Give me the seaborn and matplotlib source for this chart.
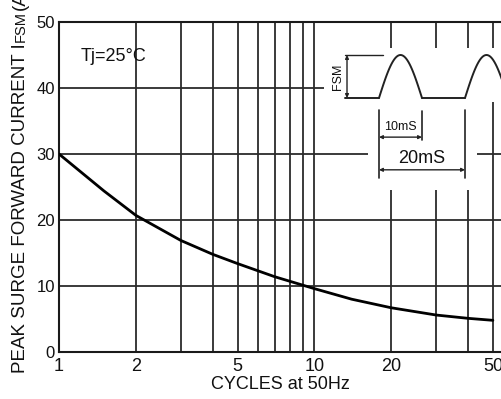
import numpy as np
import pandas as pd
import matplotlib
matplotlib.use("Agg")
import matplotlib.pyplot as plt
from matplotlib.ticker import FixedLocator, NullFormatter
from matplotlib.patches import Rectangle
import seaborn as sns

# Surge capability curve: peak forward surge current vs. number of cycles
cycles = [1, 1.5, 2, 3, 4, 5, 7, 10, 14, 20, 30, 40, 50]
ifsm_amps = [30.0, 24.4, 20.7, 16.9, 14.8, 13.4, 11.4, 9.6, 8.0, 6.7, 5.6, 5.1, 4.8]

x_major = [1, 2, 5, 10, 20, 50]
x_major_labels = ["1", "2", "5", "10", "20", "50"]
x_minor = [3, 4, 6, 7, 8, 9, 30, 40]
y_ticks = [0, 10, 20, 30, 40, 50]

sns.set_theme(style="white")
plt.rcParams["font.family"] = ["Liberation Sans", "DejaVu Sans"]

W, H = 501, 399
fig = plt.figure(figsize=(W / 100, H / 100), dpi=100)
fig.patch.set_facecolor("white")

# main axes, placed in pixel terms
L, R, B, T = 59, 501, 352, 22
ax = fig.add_axes([L / W, 1 - B / H, (R - L) / W, (B - T) / H])
ax.set_facecolor("white")

df = pd.DataFrame({"cycles": cycles, "ifsm": ifsm_amps})
sns.lineplot(data=df, x="cycles", y="ifsm", ax=ax, color="black", lw=2.0, zorder=3)

ax.set_xscale("log")
ax.set_xlim(1, 53.8)
ax.set_ylim(0, 50)

ax.xaxis.set_major_locator(FixedLocator(x_major))
ax.set_xticklabels(x_major_labels)
ax.xaxis.set_minor_locator(FixedLocator(x_minor))
ax.xaxis.set_minor_formatter(NullFormatter())
ax.yaxis.set_major_locator(FixedLocator(y_ticks))

grid_kw = dict(color="#2b2b2b", lw=1.3)
ax.grid(True, which="major", axis="both", **grid_kw)
ax.grid(True, which="minor", axis="x", **grid_kw)
ax.set_axisbelow(True)

ax.tick_params(axis="both", which="both", length=0)
ax.tick_params(axis="x", labelsize=13, pad=4, colors="#111111")
ax.tick_params(axis="y", labelsize=12, pad=3, colors="#111111")

for side in ["left", "bottom", "top"]:
    ax.spines[side].set_visible(True)
    ax.spines[side].set_color("#1a1a1a")
    ax.spines[side].set_linewidth(1.5)
ax.spines["right"].set_visible(False)

ax.set_xlabel("CYCLES at 50Hz", fontsize=13, labelpad=1, color="#111111")
ax.set_ylabel("")

ax.text(0.048, 0.894, "Tj=25°C", transform=ax.transAxes, fontsize=13,
        ha="left", va="center", color="#111111")

# white cut-out behind the waveform sketch
ov = fig.add_axes([0, 0, 1, 1], zorder=2)
ov.set_xlim(0, W)
ov.set_ylim(H, 0)
ov.axis("off")
ov.patch.set_alpha(0)
for (x0, y0, x1, y1) in [(324, 48, 477, 120), (368, 120, 477, 190), (477, 48, 501, 102)]:
    ov.add_patch(Rectangle((x0, y0), x1 - x0, y1 - y0, facecolor="white", edgecolor="none"))

# waveform sketch in its own time axis (ms) and amplitude units
px_per_ms, t0_px = 4.3, 379
amp_px, base_px = 43, 98
wx0, wx1, wy0, wy1 = 320, 501, 45, 195
wav = fig.add_axes([wx0 / W, 1 - wy1 / H, (wx1 - wx0) / W, (wy1 - wy0) / H], zorder=3)
wav.set_xlim((wx0 - t0_px) / px_per_ms, (wx1 - t0_px) / px_per_ms)
wav.set_ylim((base_px - wy1) / amp_px, (base_px - wy0) / amp_px)
wav.axis("off")
wav.patch.set_alpha(0)

lc = "#222222"
t_arch = np.linspace(0, 10, 60)
wav.plot([-7.9, 0], [0, 0], color=lc, lw=1.4)
wav.plot(t_arch, np.sin(np.pi * t_arch / 10), color=lc, lw=1.4)
wav.plot([10, 20], [0, 0], color=lc, lw=1.4)
wav.plot(t_arch + 20, np.sin(np.pi * t_arch / 10), color=lc, lw=1.4)

# peak current dimension
wav.plot([-7.9, 0.9], [1, 1], color=lc, lw=1.0)
wav.annotate("", xy=(-7.44, 1.0), xytext=(-7.44, 0.0),
             arrowprops=dict(arrowstyle="<|-|>", color=lc, lw=1.0,
                             mutation_scale=5, shrinkA=0, shrinkB=0))
wav.text(-9.6, 0.5, "FSM", rotation=90, fontsize=9, ha="center", va="center", color="#111111")

# 10 ms / 20 ms dimensions
wav.plot([0, 0], [-0.28, -1.86], color=lc, lw=1.2)
wav.plot([10, 10], [-0.3, -0.98], color=lc, lw=1.2)
wav.plot([20, 20], [-0.28, -1.86], color=lc, lw=1.2)
wav.annotate("", xy=(0, -0.91), xytext=(10, -0.91),
             arrowprops=dict(arrowstyle="<|-|>", color=lc, lw=1.0,
                             mutation_scale=5, shrinkA=0, shrinkB=0))
wav.annotate("", xy=(0, -1.67), xytext=(20, -1.67),
             arrowprops=dict(arrowstyle="<|-|>", color=lc, lw=1.0,
                             mutation_scale=5, shrinkA=0, shrinkB=0))
wav.text(5, -0.67, "10mS", fontsize=9, ha="center", va="center", color="#111111")
wav.text(10, -1.40, "20mS", fontsize=13, ha="center", va="center", color="#111111")

# rotated y-axis title built from pieces (small-caps FSM)
fig.canvas.draw()
bx = 25 / W
t1 = fig.text(bx, 1 - 373 / H, "PEAK SURGE FORWARD CURRENT I", rotation=90,
              rotation_mode="anchor", ha="left", va="baseline", fontsize=13.5, color="#111111")
fig.canvas.draw()
y_top = t1.get_window_extent().y1
t2 = fig.text(bx, (y_top + 1) / H, "FSM", rotation=90, rotation_mode="anchor",
              ha="left", va="baseline", fontsize=10.5, color="#111111")
fig.canvas.draw()
y_top = t2.get_window_extent().y1
fig.text(bx, (y_top + 1) / H, "(A)", rotation=90, rotation_mode="anchor",
         ha="left", va="baseline", fontsize=13.5, color="#111111")

fig.savefig("out.png", dpi=100, facecolor="white")
